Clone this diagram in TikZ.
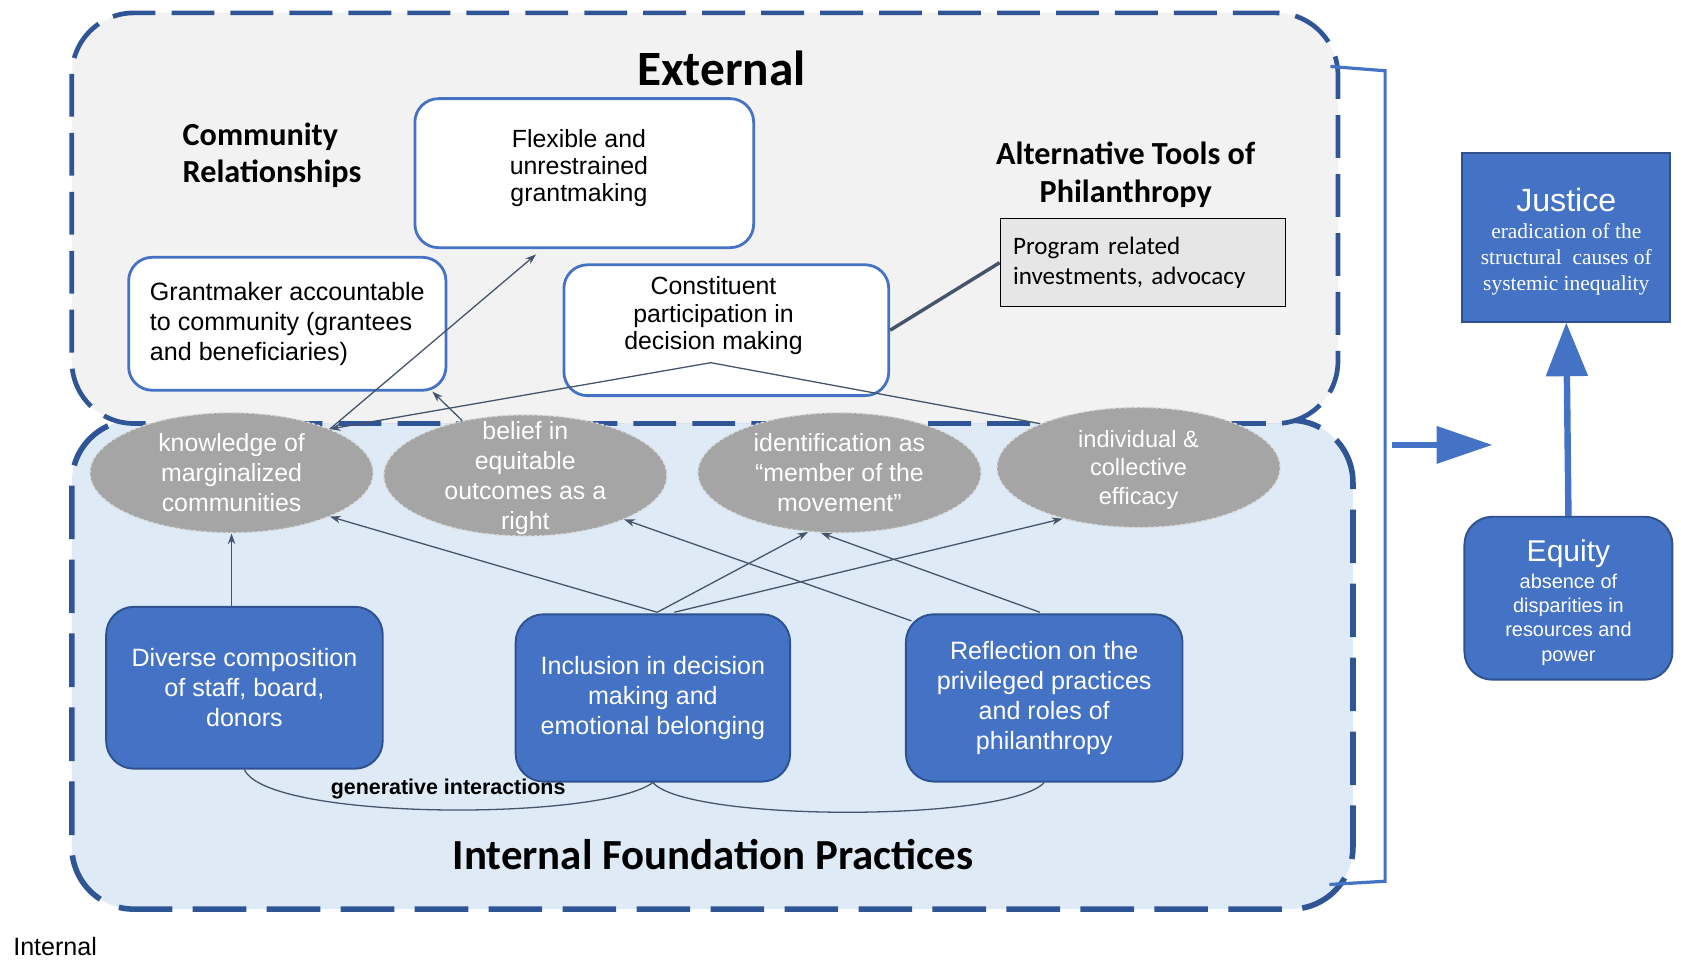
\documentclass[tikz,border=0pt]{standalone}
\usepackage{fontspec}
\setmainfont{Liberation Sans}
\newfontfamily\calfont{Carlito}
\newfontfamily\serfont{Liberation Serif}
\usetikzlibrary{arrows.meta,shapes.geometric,calc}
\definecolor{dblue}{HTML}{2F5597}
\definecolor{mblue}{HTML}{4472C4}
\definecolor{bord}{HTML}{2F528F}
\definecolor{extfill}{HTML}{F2F2F2}
\definecolor{intfill}{HTML}{DEEBF7}
\definecolor{ellfill}{HTML}{A5A5A5}
\definecolor{connc}{HTML}{44546A}
\definecolor{progfill}{HTML}{E7E6E6}
\tikzset{
  conn/.style={draw=connc, line width=0.6pt},
  arr/.style={conn, -{Stealth[length=5pt,width=3.5pt]}},
  region/.style={draw=dblue, rounded corners=29pt, inner sep=0pt},
  topbox/.style={draw=mblue, line width=1.3pt, fill=white, rounded corners=11pt, inner sep=0pt, align=center, font=\fontsize{11.6}{12.75}\selectfont},
  botbox/.style={draw=bord, line width=0.9pt, fill=mblue, rounded corners=13pt, text=white, align=center, inner sep=0pt, font=\fontsize{11.7}{14}\selectfont},
  ell/.style={ellipse, fill=ellfill, draw=white!70!gray, dash pattern=on 1.5pt off 1pt, line width=0.6pt, text=white, align=center, inner sep=0pt, minimum width=132pt, minimum height=56pt, font=\fontsize{11.6}{14}\selectfont},
  heading/.style={font=\calfont\bfseries\fontsize{15}{17.5}\selectfont, inner sep=0pt}
}
\begin{document}
\begin{tikzpicture}[x=0.5pt,y=-0.5pt]
\useasboundingbox (0,0) rectangle (1568,896);

% regions
\node[region, line width=2.6pt, dash pattern=on 25pt off 9.5pt, fill=intfill, minimum width=597.5pt, minimum height=228pt] (intbox) at (664.5,620) {};
\node[region, line width=2.2pt, dash pattern=on 20pt off 7.5pt, fill=extfill, minimum width=590.5pt, minimum height=191.5pt] (extbox) at (657.5,203.5) {};

% bracket and arrow to the right
\coordinate (brT) at (1241,62);
\coordinate (brT2) at (1292,66);
\coordinate (brB2) at (1292,822);
\coordinate (brB) at (1240,825);
\draw[mblue, line width=1.5pt] (brT) -- (brT2) -- (brB2) -- (brB);
\coordinate (raS) at (1298,415);
\coordinate (raE) at (1392,415);
\draw[mblue, line width=2.5pt, -{Triangle[length=26pt,width=17pt]}] (raS) -- (raE);

% headings
\node[font=\calfont\bfseries\fontsize{23}{26}\selectfont, inner sep=0pt] (ext) at (673,64) {External};
\node[heading, anchor=west, align=left] (comm) at (170,145) {Community\\Relationships};
\node[heading, align=center, font=\calfont\bfseries\fontsize{15}{18}\selectfont] (alt) at (1050,163) {Alternative Tools of\\Philanthropy};
\node[font=\calfont\bfseries\fontsize{20}{24}\selectfont, inner sep=0pt] (intl) at (665,797) {Internal Foundation Practices};
\node[anchor=west, inner sep=0pt, font=\fontsize{11.7}{14}\selectfont] (intlab) at (12,883) {Internal};

% top boxes
\node[topbox, minimum width=158pt, minimum height=69.5pt, text depth=7pt] (Fl) at (545,161.5) {Flexible and\hspace*{5pt}\mbox{}\\unrestrained\hspace*{5pt}\mbox{}\\grantmaking\hspace*{5pt}\mbox{}};
\node[topbox, minimum width=148pt, minimum height=62pt, align=left, font=\fontsize{11.7}{14}\selectfont] (Gr) at (268,302) {Grantmaker accountable\\to community (grantees\\and beneficiaries)};
\node[topbox, minimum width=151.5pt, minimum height=61pt, text depth=16pt] (Co) at (677.5,308) {Constituent\hspace*{12pt}\mbox{}\\participation in\hspace*{12pt}\mbox{}\\decision making\hspace*{12pt}\mbox{}};
\node[draw=black, line width=0.6pt, fill=progfill, minimum width=133pt, minimum height=41pt, inner xsep=6pt, inner ysep=0pt, text width=121pt, align=left, font=\calfont\fontsize{11.7}{14}\selectfont] (Pr) at (1066,245) {Program related\\investments, advocacy};
\draw[draw=connc, line width=1.6pt] (Co.east) -- (Pr.west);

% right column
\node[draw=bord, line width=0.9pt, fill=mblue, text=white, align=center, minimum width=97pt, minimum height=78.5pt, inner sep=0pt, font=\fontsize{10}{12.25}\selectfont] (Ju) at (1461,221.5) {{\fontsize{15}{15}\selectfont\rule{0pt}{14.8pt}Justice}\\[0.5pt]{\serfont eradication of the}\\{\serfont structural\ \ causes of}\\{\serfont systemic inequality}};
\node[draw=bord, line width=0.9pt, fill=mblue, text=white, align=center, rounded corners=13pt, minimum width=97pt, minimum height=76pt, inner sep=0pt, font=\fontsize{9.3}{11.25}\selectfont] (Eq) at (1463,558) {{\fontsize{14}{14}\selectfont\rule{0pt}{14pt}Equity}\\[1.5pt]absence of\\disparities in\\resources and\\power};
\draw[mblue, line width=3pt, -{Triangle[length=25pt,width=19pt]}] (Eq.north) -- (Ju.south);

% bottom boxes
\node[botbox, minimum width=129pt, minimum height=75.5pt] (B1) at (228,641.5) {Diverse composition\\of staff, board,\\donors};
\node[botbox, minimum width=128pt, minimum height=78pt] (B2) at (609,651) {Inclusion in decision\\making and\\emotional belonging};
\node[botbox, minimum width=129pt, minimum height=78pt] (B3) at (974,651) {Reflection on the\\privileged practices\\and roles of\\philanthropy};

% ellipses
\node[ell] (E1) at (216,441) {knowledge of\\marginalized\\communities};
\node[ell, minimum height=56.5pt] (E2) at (490,443.5) {\smash{\raisebox{-4.5pt}{\begin{tabular}{@{}c@{}}belief in\\equitable\\outcomes as a\\right\end{tabular}}}};
\node[ell] (E3) at (783,441) {identification as\\“member of the\\movement”};
\node[ell, font=\fontsize{11}{13.5}\selectfont, text depth=0pt] (E4) at (1062,436) {individual \&\\collective\\efficacy};

% connectors
\draw[arr] (E1.south |- B1.north) -- (E1.south);
\draw[arr] ($(B2.north)+(4,-1)$) -- (E1.-24);
\draw[arr] ($(B2.north)+(4,-1)$) -- (E3.-118);
\draw[arr] ($(B2.north)+(20,-1)$) -- (E4.-146);
\draw[arr] ($(B3.north west)+(6,7)$) -- (E2.-24);
\draw[arr] ($(B3.north)+(-4,-1)$) -- (E3.-107);
\draw[arr] (E1.24) -- ($(Fl.south)+(-45,5)$);
\draw[arr] (E2.139) -- ($(Gr.south east)+(-14,0)$);
\draw[arr] (E4.156) -- ($(Co.south)+(-14.5,-32)$) -- (E1.24);

% generative interactions
\draw[conn] (B1.south) .. controls ($(B1.south)+(22,48)$) and ($(B2.south)+(-48,36)$) .. (B2.south);
\draw[conn] (B2.south) .. controls ($(B2.south)+(32,37)$) and ($(B3.south)+(-34,37)$) .. (B3.south);
\node[font=\bfseries\fontsize{10}{12}\selectfont, inner sep=0pt] (gen) at (418,736) {generative interactions};
\end{tikzpicture}
\end{document}
